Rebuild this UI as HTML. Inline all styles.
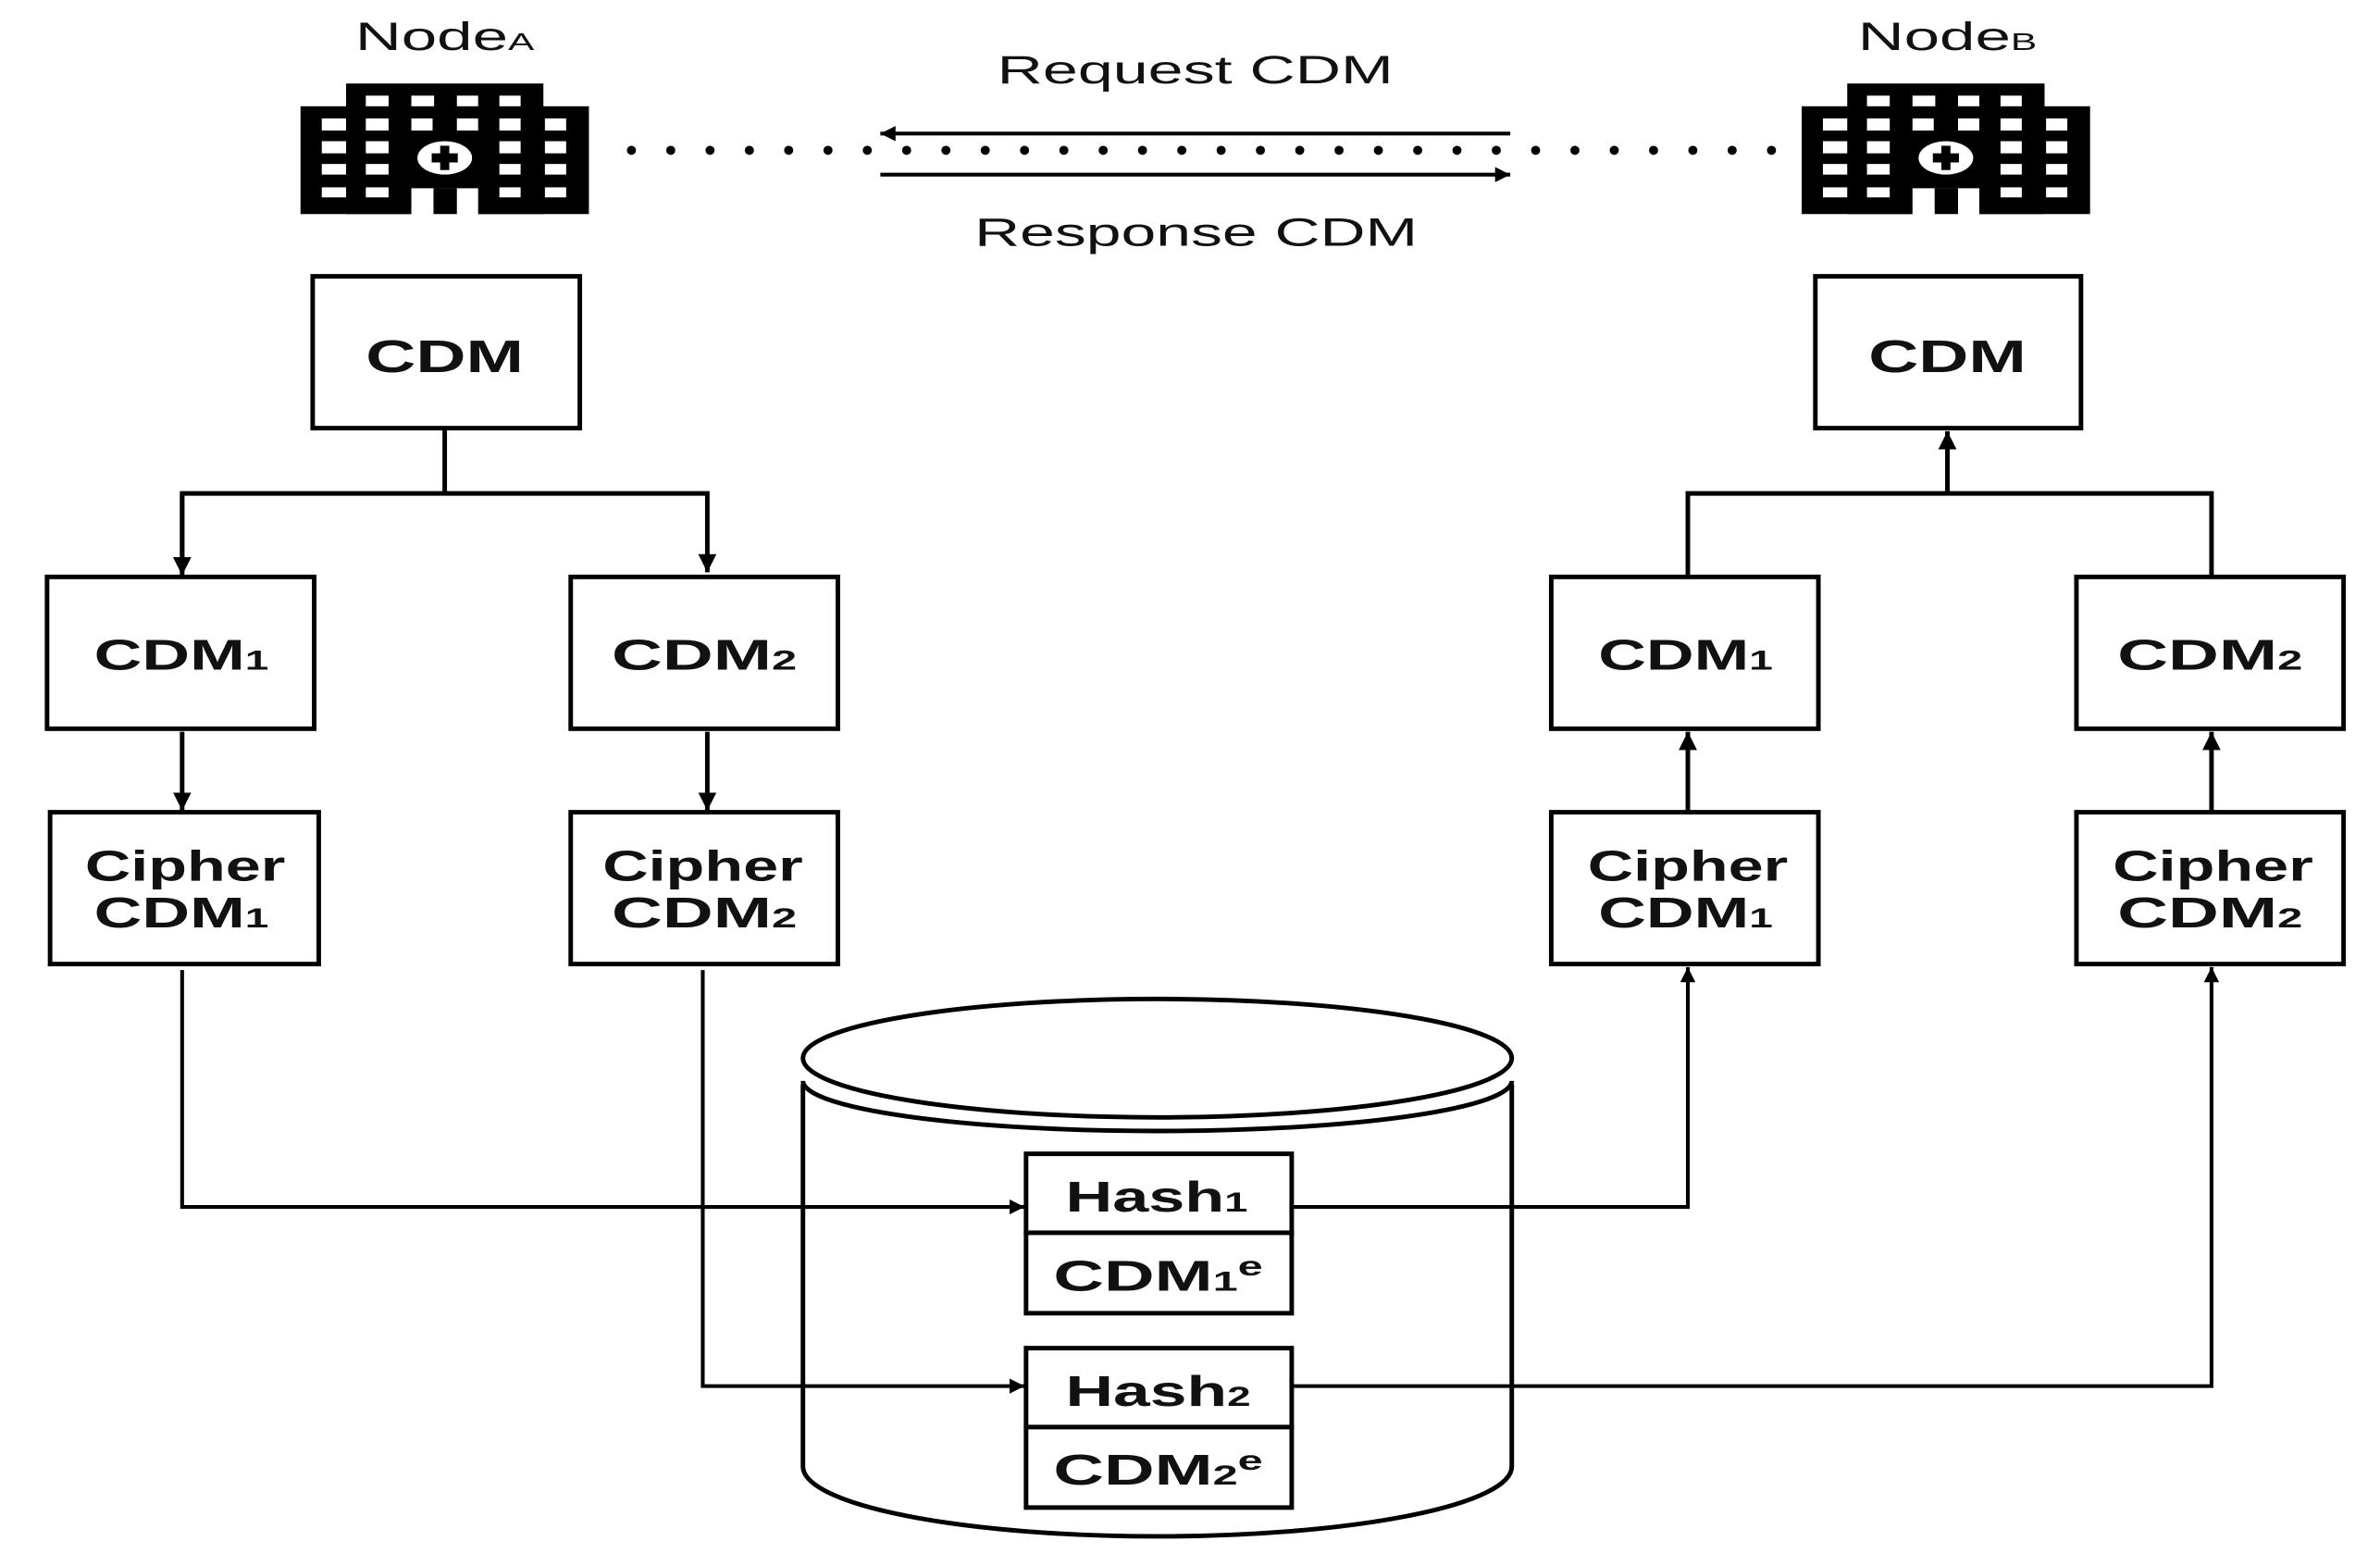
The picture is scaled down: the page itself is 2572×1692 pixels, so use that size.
<!DOCTYPE html>
<html><head><meta charset="utf-8"><style>
html,body{margin:0;padding:0;background:#fff;}
svg{display:block;}
text{font-family:"Liberation Sans",Arial,sans-serif;fill:#111;}
.b{font-weight:bold;}
</style></head><body>
<svg width="2572" height="1692" viewBox="0 0 1568 1031.5" preserveAspectRatio="none" xmlns="http://www.w3.org/2000/svg">
<defs>
<g id="bld">
  <rect x="0" y="75" width="950" height="355" fill="#000"/>
  <rect x="150" y="0" width="650" height="430" fill="#000"/>
  <rect x="365" y="345" width="220" height="90" fill="#fff"/>
  <rect x="438" y="345" width="77" height="85" fill="#000"/>
  <g fill="#fff">
    <rect x="215" y="40" width="75" height="35"/><rect x="365" y="40" width="75" height="35"/><rect x="515" y="40" width="70" height="35"/><rect x="655" y="40" width="70" height="35"/>
    <rect x="70" y="115" width="80" height="40"/><rect x="215" y="115" width="75" height="40"/><rect x="365" y="115" width="70" height="40"/><rect x="515" y="115" width="70" height="40"/><rect x="655" y="115" width="70" height="40"/><rect x="805" y="115" width="70" height="40"/>
    <rect x="70" y="190" width="80" height="40"/><rect x="215" y="190" width="75" height="40"/><rect x="655" y="190" width="70" height="40"/><rect x="805" y="190" width="70" height="40"/>
    <rect x="70" y="265" width="80" height="35"/><rect x="215" y="265" width="75" height="35"/><rect x="655" y="265" width="70" height="35"/><rect x="805" y="265" width="70" height="35"/>
    <rect x="70" y="342" width="80" height="33"/><rect x="215" y="342" width="75" height="33"/><rect x="655" y="342" width="70" height="33"/><rect x="805" y="342" width="70" height="33"/>
    <ellipse cx="475" cy="245" rx="90" ry="55"/>
  </g>
  <rect x="432" y="230" width="86" height="30" fill="#000"/>
  <rect x="460" y="205" width="30" height="80" fill="#000"/>
</g>
<marker id="ar" viewBox="0 0 10 10" refX="10" refY="5" markerWidth="4" markerHeight="4" orient="auto" markerUnits="strokeWidth">
  <path d="M0,0 L10,5 L0,10 z" fill="#000"/>
</marker>
</defs>

<!-- Node labels -->
<text x="234" y="33" font-size="26" textLength="118" lengthAdjust="spacingAndGlyphs">Node<tspan font-size="16">A</tspan></text>
<text x="1224" y="33" font-size="26" textLength="118" lengthAdjust="spacingAndGlyphs">Node<tspan font-size="16">B</tspan></text>

<!-- buildings -->
<use href="#bld" transform="translate(198,55) scale(0.2)"/>
<use href="#bld" transform="translate(1187,55) scale(0.2)"/>

<!-- dotted line -->
<line x1="416" y1="99" x2="1182" y2="99" stroke="#000" stroke-width="6" stroke-linecap="round" stroke-dasharray="0 25.9"/>

<!-- request / response -->
<text x="657" y="55" font-size="26" textLength="261" lengthAdjust="spacingAndGlyphs">Request CDM</text>
<text x="642" y="162" font-size="26" textLength="292" lengthAdjust="spacingAndGlyphs">Response CDM</text>
<line x1="995" y1="88" x2="580" y2="88" stroke="#000" stroke-width="2.5" marker-end="url(#ar)"/>
<line x1="580" y1="115" x2="995" y2="115" stroke="#000" stroke-width="2.5" marker-end="url(#ar)"/>

<g fill="#fff" stroke="#000" stroke-width="3">
  <rect x="206" y="182" width="176" height="100"/>
  <rect x="1196" y="182" width="175" height="100"/>
  <rect x="31" y="380" width="176" height="100"/>
  <rect x="376" y="380" width="176" height="100"/>
  <rect x="33" y="535" width="177" height="100"/>
  <rect x="376" y="535" width="176" height="100"/>
  <rect x="1022" y="380" width="176" height="100"/>
  <rect x="1368" y="380" width="176" height="100"/>
  <rect x="1022" y="535" width="176" height="100"/>
  <rect x="1368" y="535" width="176" height="100"/>
</g>

<!-- connectors left -->
<g fill="none" stroke="#000" stroke-width="3">
  <polyline points="293,282 293,325"/>
  <polyline points="120,377 120,325 466,325 466,377" marker-start="url(#ar)" marker-end="url(#ar)" style="marker-start:none"/>
  <line x1="120" y1="325" x2="120" y2="379" marker-end="url(#ar)"/>
  <line x1="120" y1="482" x2="120" y2="534" marker-end="url(#ar)"/>
  <line x1="466" y1="482" x2="466" y2="534" marker-end="url(#ar)"/>
  <!-- right -->
  <polyline points="1112,380 1112,325 1457,325 1457,380"/>
  <line x1="1283" y1="325" x2="1283" y2="284" marker-end="url(#ar)"/>
  <line x1="1112" y1="535" x2="1112" y2="482" marker-end="url(#ar)"/>
  <line x1="1457" y1="535" x2="1457" y2="482" marker-end="url(#ar)"/>
</g>

<!-- cylinder -->
<g fill="none" stroke="#000" stroke-width="3">
  <path d="M529,714 L529,966 A233.5,46 0 0 0 996,966 L996,714"/>
  <path d="M529,712 A233.5,33 0 0 0 996,712"/>
  <ellipse cx="762.5" cy="697" rx="233.5" ry="39" fill="#fff"/>
</g>

<!-- hash boxes -->
<g fill="#fff" stroke="#000" stroke-width="3">
  <rect x="676" y="760" width="175" height="52"/>
  <rect x="676" y="812" width="175" height="53"/>
  <rect x="676" y="888" width="175" height="52"/>
  <rect x="676" y="940" width="175" height="53"/>
</g>

<!-- flows through DB -->
<g fill="none" stroke="#000" stroke-width="2.5">
  <polyline points="120,639 120,795 675,795" marker-end="url(#ar)"/>
  <polyline points="463,639 463,913 675,913" marker-end="url(#ar)"/>
  <polyline points="851,795 1112,795 1112,637" marker-end="url(#ar)"/>
  <polyline points="851,913 1457,913 1457,637" marker-end="url(#ar)"/>
</g>

<!-- box labels -->
<g class="b" font-size="30">
  <text x="241" y="245" textLength="104" lengthAdjust="spacingAndGlyphs" class="b">CDM</text>
  <text x="1231" y="245" textLength="104" lengthAdjust="spacingAndGlyphs" class="b">CDM</text>
</g>
<g font-size="28" font-weight="bold">
  <text x="62" y="441" textLength="115" lengthAdjust="spacingAndGlyphs">CDM<tspan font-size="18">1</tspan></text>
  <text x="403" y="441" textLength="122" lengthAdjust="spacingAndGlyphs">CDM<tspan font-size="18">2</tspan></text>
  <text x="1053" y="441" textLength="115" lengthAdjust="spacingAndGlyphs">CDM<tspan font-size="18">1</tspan></text>
  <text x="1395" y="441" textLength="122" lengthAdjust="spacingAndGlyphs">CDM<tspan font-size="18">2</tspan></text>

  <text x="56" y="580" textLength="132" lengthAdjust="spacingAndGlyphs">Cipher</text>
  <text x="62" y="611" textLength="115" lengthAdjust="spacingAndGlyphs">CDM<tspan font-size="18">1</tspan></text>
  <text x="397" y="580" textLength="132" lengthAdjust="spacingAndGlyphs">Cipher</text>
  <text x="403" y="611" textLength="122" lengthAdjust="spacingAndGlyphs">CDM<tspan font-size="18">2</tspan></text>
  <text x="1046" y="580" textLength="132" lengthAdjust="spacingAndGlyphs">Cipher</text>
  <text x="1053" y="611" textLength="115" lengthAdjust="spacingAndGlyphs">CDM<tspan font-size="18">1</tspan></text>
  <text x="1392" y="580" textLength="132" lengthAdjust="spacingAndGlyphs">Cipher</text>
  <text x="1395" y="611" textLength="122" lengthAdjust="spacingAndGlyphs">CDM<tspan font-size="18">2</tspan></text>

  <text x="702" y="798" textLength="120" lengthAdjust="spacingAndGlyphs">Hash<tspan font-size="18">1</tspan></text>
  <text x="694" y="850" textLength="138" lengthAdjust="spacingAndGlyphs">CDM<tspan font-size="18">1</tspan><tspan font-size="18" dy="-10">e</tspan></text>
  <text x="702" y="926" textLength="122" lengthAdjust="spacingAndGlyphs">Hash<tspan font-size="18">2</tspan></text>
  <text x="694" y="978" textLength="138" lengthAdjust="spacingAndGlyphs">CDM<tspan font-size="18">2</tspan><tspan font-size="18" dy="-10">e</tspan></text>
</g>
</svg>
</body></html>
